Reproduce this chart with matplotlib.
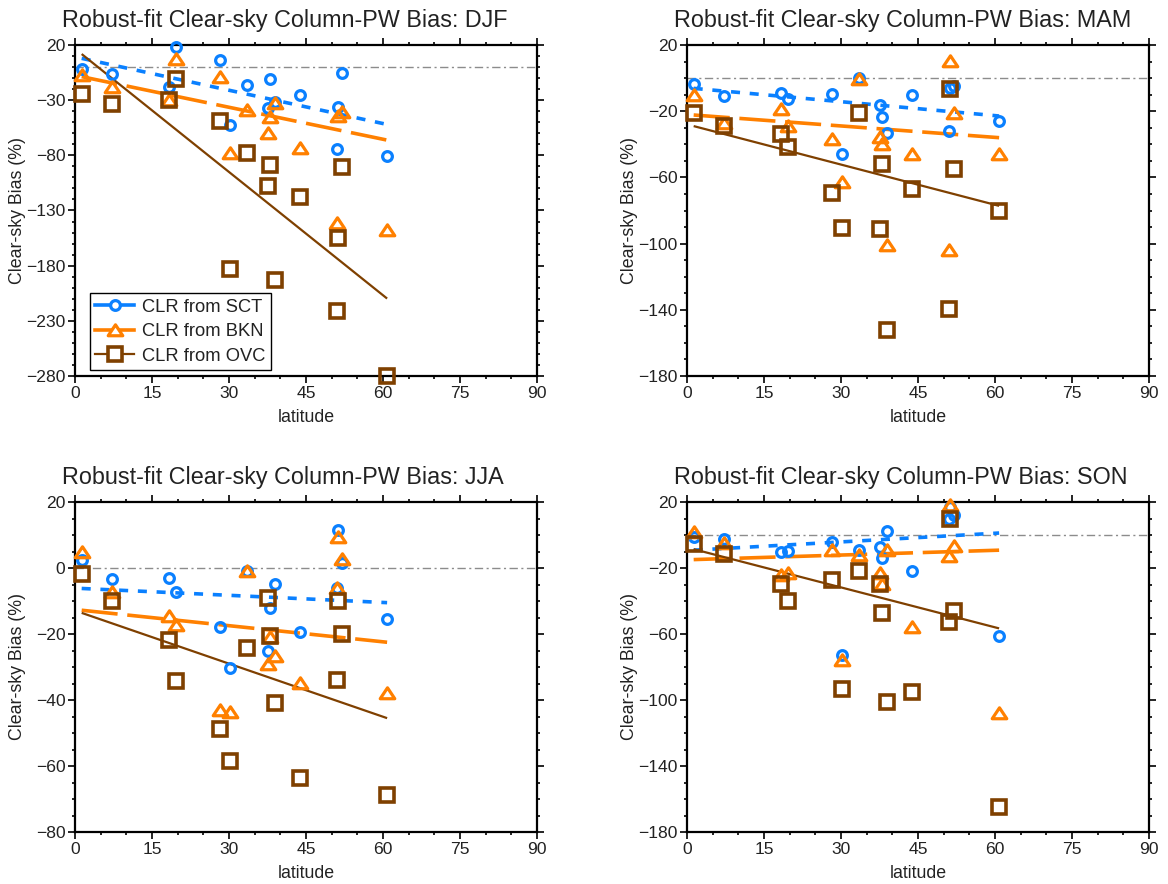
import matplotlib
matplotlib.use('Agg')
import matplotlib.pyplot as plt
import matplotlib.path as mpath
from matplotlib.lines import Line2D
from matplotlib.ticker import MultipleLocator

plt.rcParams['font.family'] = ['Liberation Sans', 'DejaVu Sans']
plt.rcParams['lines.scale_dashes'] = False

# station latitudes (shared by every season and cloud class)
LAT = [1.3, 7.3, 18.3, 19.6, 28.2, 30.1, 33.6, 37.6, 37.9, 38.9, 43.9, 51.0, 51.2, 52.0, 60.8]

# clear-sky bias (%) per season, CLR derived from SCT / BKN / OVC
DJF_SCT = [-2.1, -6.6, -17.8, 17.9, 6.4, -52.6, -16.3, -37.5, -11.1, -31.6, -25.4, -74.6, -35.9, -5.7, -80.4]
DJF_BKN = [-7.2, -18.4, -29.9, 7.0, -9.3, -78.3, -39.0, -59.5, -45.6, -32.3, -73.7, -141.0, -44.4, -40.5, -147.8]
DJF_OVC = [-24.5, -33.5, -29.9, -10.8, -48.6, -183.2, -78.3, -107.6, -88.9, -192.6, -118.2, -221.0, -154.5, -90.4, -280.0]

MAM_SCT = [-3.8, -10.8, -8.8, -12.7, -9.8, -46.1, 0.0, -16.3, -23.8, -33.4, -10.2, -31.8, -6.0, -4.8, -25.8]
MAM_BKN = [-10.2, -27.0, -18.7, -29.0, -36.5, -62.7, -0.8, -35.8, -39.9, -101.0, -46.1, -104.0, 10.5, -21.3, -45.9]
MAM_OVC = [-20.9, -29.0, -33.8, -41.5, -69.3, -90.5, -21.3, -91.3, -52.0, -152.4, -67.1, -139.3, -6.6, -55.0, -80.4]

JJA_SCT = [2.4, -3.2, -3.0, -7.2, -18.0, -30.2, -1.0, -25.2, -12.0, -4.7, -19.5, -6.2, 11.6, 1.4, -15.6]
JJA_BKN = [4.9, -7.2, -14.6, -17.3, -43.0, -43.5, -0.9, -29.1, -20.8, -26.7, -34.7, -6.2, 9.4, 2.6, -37.8]
JJA_OVC = [-1.7, -9.9, -21.8, -34.2, -48.9, -58.6, -24.1, -9.2, -20.6, -41.0, -63.7, -33.9, -9.9, -20.0, -68.7]

SON_SCT = [-1.0, -2.6, -10.2, -9.8, -4.2, -72.7, -8.8, -7.2, -13.9, 2.3, -21.9, 10.0, 17.0, 11.9, -61.0]
SON_BKN = [1.9, -4.8, -24.4, -22.9, -9.2, -75.8, -12.3, -23.3, -29.8, -9.2, -56.0, -12.9, 18.0, -6.8, -107.6]
SON_OVC = [-5.2, -11.3, -29.8, -39.9, -27.4, -93.3, -21.7, -29.8, -47.5, -101.4, -94.9, -52.6, 9.9, -45.9, -164.9]

# robust-fit line values at the first and last station: [SCT, BKN, OVC]
DJF_FIT = [[7.9, -52.0], [-8.7, -66.2], [11.8, -209.8]]
MAM_FIT = [[-6.2, -22.9], [-22.3, -36.0], [-29.0, -77.2]]
JJA_FIT = [[-6.2, -10.5], [-12.8, -22.5], [-13.6, -45.5]]
SON_FIT = [[-9.2, 1.2], [-14.9, -9.2], [-8.6, -56.6]]

DJF_YTICKS = [20, -30, -80, -130, -180, -230, -280]
MAM_YTICKS = [20, -20, -60, -100, -140, -180]
JJA_YTICKS = [20, 0, -20, -40, -60, -80]
SON_YTICKS = [20, -20, -60, -100, -140, -180]
XTICKS = [0, 15, 30, 45, 60, 75, 90]

LABELS = ['CLR from SCT', 'CLR from BKN', 'CLR from OVC']

BLUE = '#0A80FF'
ORANGE = '#FF8000'
BROWN = '#7F4000'
TXT = '#222222'

tri = mpath.Path([(0, 0.78), (-1, -0.72), (1, -0.72), (0, 0.78)], closed=True)

# marker / fit-line style per cloud class
STYLES = [
    dict(color=BLUE, marker='o', ms=7, mew=2.3, lw=2.6, dashes=(6.5, 7)),
    dict(color=ORANGE, marker=tri, ms=10.5, mew=2.3, lw=2.6, dashes=(26, 7)),
    dict(color=BROWN, marker='s', ms=10, mew=2.6, lw=1.6, dashes=None),
]

panels = [
    ('DJF', [DJF_SCT, DJF_BKN, DJF_OVC], DJF_FIT, DJF_YTICKS, 10,
     [75 / 1168, 1 - 376 / 884, 462 / 1168, 331 / 884]),
    ('MAM', [MAM_SCT, MAM_BKN, MAM_OVC], MAM_FIT, MAM_YTICKS, 10,
     [687 / 1168, 1 - 376 / 884, 462 / 1168, 331 / 884]),
    ('JJA', [JJA_SCT, JJA_BKN, JJA_OVC], JJA_FIT, JJA_YTICKS, 5,
     [75 / 1168, 1 - 832 / 884, 462 / 1168, 330 / 884]),
    ('SON', [SON_SCT, SON_BKN, SON_OVC], SON_FIT, SON_YTICKS, 10,
     [687 / 1168, 1 - 832 / 884, 462 / 1168, 330 / 884]),
]

fig = plt.figure(figsize=(11.68, 8.84), dpi=100)
fig.patch.set_facecolor('white')

for season, series, fits, yticks, yminor, rect in panels:
    ax = fig.add_axes(rect)

    # zero reference
    ax.axhline(0, color='#8c8c8c', lw=1.0, dashes=(6, 2.5, 1.5, 2.5), zorder=1)

    # fitted trends
    for fit, st in zip(fits, STYLES):
        kw = dict(color=st['color'], lw=st['lw'], solid_capstyle='butt', zorder=2)
        if st['dashes'] is not None:
            kw['dashes'] = st['dashes']
            kw['dash_capstyle'] = 'butt'
        ax.plot([LAT[0], LAT[-1]], fit, **kw)

    # station points
    for vals, st in zip(series, STYLES):
        ax.plot(LAT, vals, ls='none', marker=st['marker'], ms=st['ms'],
                mew=st['mew'], mec=st['color'], mfc='none', zorder=3,
                clip_on=False)

    ax.set_xlim(0, 90)
    ax.set_ylim(yticks[-1], yticks[0])
    ax.set_xticks(XTICKS)
    ax.set_yticks(yticks)
    ax.xaxis.set_minor_locator(MultipleLocator(5))
    ax.yaxis.set_minor_locator(MultipleLocator(yminor))
    ax.tick_params(which='both', direction='out', top=True, right=True,
                   labelsize=12.6, labelcolor=TXT, width=1.2)
    ax.tick_params(which='major', length=5, pad=2)
    ax.tick_params(which='minor', length=2.5)
    for sp in ax.spines.values():
        sp.set_linewidth(1.6)

    ax.set_xlabel('latitude', fontsize=12.8, color=TXT)
    ax.xaxis.set_label_coords(0.5, -0.1)
    ax.set_ylabel('Clear-sky Bias (%)', fontsize=12.8, color=TXT)
    ax.yaxis.set_label_coords(-0.106, 0.5)

    ax.text(-0.028, 1.054, f'Robust-fit Clear-sky Column-PW Bias: {season}',
            transform=ax.transAxes, ha='left', va='baseline',
            fontsize=16.8, color=TXT)

    if season == 'DJF':
        handles = [Line2D([], [], color=st['color'], lw=st['lw'],
                          marker=st['marker'], ms=st['ms'], mew=st['mew'],
                          mec=st['color'], mfc='white') for st in STYLES]
        leg = ax.legend(handles, LABELS, loc='lower left',
                        bbox_to_anchor=(0.032, 0.018), borderaxespad=0,
                        fontsize=13.2, handlelength=2.1, handletextpad=0.45,
                        labelspacing=0.4, borderpad=0.3, fancybox=False,
                        framealpha=1, edgecolor='black')
        leg.get_frame().set_linewidth(1.0)
        for t in leg.get_texts():
            t.set_color(TXT)
        leg.set_zorder(5)

fig.savefig('out.png', dpi=100, facecolor='white')
